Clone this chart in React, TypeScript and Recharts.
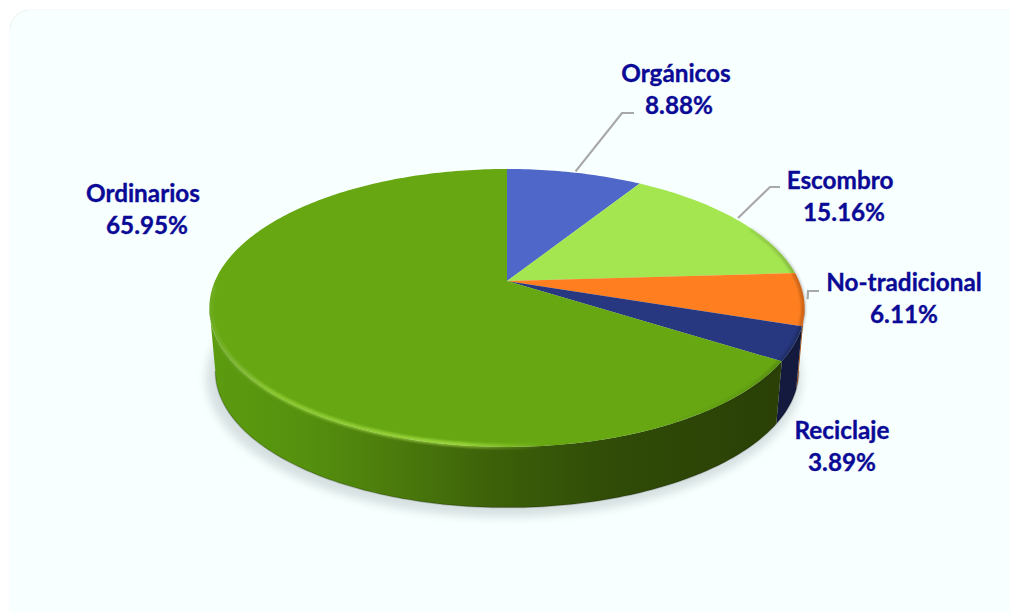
import React from 'react';
import { PieChart, Pie } from 'recharts';

const categories = ['Orgánicos', 'Escombro', 'No-tradicional', 'Reciclaje', 'Ordinarios'];
const shares = [8.88, 15.16, 6.11, 3.89, 65.95];

const topColors = ['#4f67c8', '#a4e650', '#ff7f20', '#273880', '#66a712'];
const wallColors = ['#2f3e78', '#62893a', '#a5500f', '#141a3e', 'url(#ordinariosWall)'];

const tableData = categories.map((name, i) => ({
  name,
  value: shares[i],
  fill: topColors[i],
  wall: wallColors[i],
}));

// where each label goes, and the elbow of its leader line (if it has one)
const labelSpots: Record<string, any> = {
  'Orgánicos': { x: 676, y: 82, pctX: 679, elbow: [622, 113, 634, 113] },
  'Escombro': { x: 840, y: 189, pctX: 844, elbow: [770, 187, 780, 187] },
  'No-tradicional': { x: 904, y: 291, pctX: 904, elbow: [808, 291, 819, 291] },
  'Reciclaje': { x: 842, y: 439, pctX: 842 },
  'Ordinarios': { x: 143, y: 202, pctX: 147 },
};

const RAD = Math.PI / 180;
const TILT = 0.458;
const PERSPECTIVE = 0.194;
const DEPTH = 64;
const BASE_SCALE = 0.98;

// the pie's own angles, pushed through a tilted camera
function project(cx: number, cy: number, r: number, angle: number, scale = 1, drop = 0) {
  const a = (90 - angle) * RAD;
  const X = Math.sin(a);
  const Y = Math.cos(a);
  const w = 1 + PERSPECTIVE * Y;
  return [cx + (r * scale * X) / w, cy + drop - (r * TILT * scale * Y) / w];
}

function arc(cx: number, cy: number, r: number, from: number, to: number, scale = 1, drop = 0) {
  const steps = Math.max(2, Math.ceil(Math.abs(from - to)));
  const pts: number[][] = [];
  for (let i = 0; i <= steps; i++) {
    pts.push(project(cx, cy, r, from + ((to - from) * i) / steps, scale, drop));
  }
  return pts;
}

const toPath = (pts: number[][]) => pts.map((p, i) => `${i ? 'L' : 'M'}${p[0].toFixed(2)},${p[1].toFixed(2)}`).join(' ');

function Slice3D(props: any) {
  const { cx, cy, outerRadius: r, startAngle, endAngle, fill } = props;
  const wall = props.wall ?? props.payload?.wall;

  const rim = arc(cx, cy, r, startAngle, endAngle);
  const top = `M${cx},${cy} ${toPath(rim).replace('M', 'L')} Z`;

  const wallFrom = Math.min(startAngle, -11);
  const wallTo = Math.max(endAngle, -169);
  const hasWall = wallFrom > wallTo;

  const rimFrom = Math.min(startAngle, 25);
  const rimTo = Math.max(endAngle, -178);

  return (
    <g>
      {startAngle === 90 && (
        <path
          d={toPath(arc(cx - 3, cy, r, 0, 360, 1, DEPTH + 6)) + ' Z'}
          fill="#d6e0e0"
          filter="url(#softShadow)"
        />
      )}
      {hasWall && (
        <>
          <path
            d={
              toPath(arc(cx, cy, r, wallFrom, wallTo)) +
              ' ' +
              toPath(arc(cx, cy, r, wallTo, wallFrom, BASE_SCALE, DEPTH)).replace('M', 'L') +
              ' Z'
            }
            fill={wall}
          />
          <path
            d={toPath(arc(cx, cy, r, wallFrom, wallTo, BASE_SCALE, DEPTH))}
            fill="none"
            stroke="rgba(0,0,0,0.2)"
            strokeWidth={1.5}
          />
        </>
      )}
      <path d={top} fill={fill} stroke="none" />
      {rimFrom > rimTo && (
        <path
          d={toPath(arc(cx, cy, r, rimFrom, rimTo, 0.996))}
          fill="none"
          stroke="url(#rimShade)"
          strokeWidth={5}
          filter="url(#softRim)"
        />
      )}
    </g>
  );
}

function SliceLabel(props: any) {
  const { cx, cy, outerRadius, midAngle, name, value } = props;
  const spot = labelSpots[name];
  if (!spot) return null;
  const textStyle = {
    fontFamily: 'Lato, sans-serif',
    fontWeight: 700,
    fontSize: 24.3,
    fill: '#0a0a96',
    stroke: '#0a0a96',
    strokeWidth: 0.35,
  };
  let leader = null;
  if (spot.elbow) {
    const [sx, sy] = project(cx, cy, outerRadius, midAngle, 1.012);
    const [ex, ey, fx, fy] = spot.elbow;
    leader = (
      <polyline
        points={`${sx},${sy} ${ex},${ey} ${fx},${fy}`}
        fill="none"
        stroke="#a8a8a8"
        strokeWidth={2.2}
      />
    );
  }
  return (
    <g>
      {leader}
      <text x={spot.x} y={spot.y} textAnchor="middle" style={textStyle}>{name}</text>
      <text x={spot.pctX} y={spot.y + 32} textAnchor="middle" style={textStyle}>{value.toFixed(2)}%</text>
    </g>
  );
}

export default function App() {
  return (
    <div style={{ position: 'absolute', left: 0, top: 0, width: 1010, height: 612, background: '#fff', overflow: 'hidden' }}>
      <div
        style={{
          position: 'absolute',
          left: 10,
          top: 10,
          width: 1010,
          height: 612,
          background: '#f8ffff',
          borderTopLeftRadius: 20,
          boxShadow: '0 0 1px #c9c9c9',
        }}
      />
      <div style={{ position: 'absolute', left: 0, top: 0 }}>
        <PieChart width={1010} height={612} margin={{ top: 0, right: 0, bottom: 0, left: 0 }}>
          <defs>
            <linearGradient id="ordinariosWall" gradientUnits="userSpaceOnUse" x1="210" y1="0" x2="780" y2="0">
              <stop offset="0" stopColor="#5c9c10" />
              <stop offset="0.17" stopColor="#55900e" />
              <stop offset="0.33" stopColor="#4b7a0c" />
              <stop offset="0.5" stopColor="#3c6009" />
              <stop offset="0.7" stopColor="#304c07" />
              <stop offset="1" stopColor="#2a4006" />
            </linearGradient>
            <linearGradient id="rimShade" gradientUnits="userSpaceOnUse" x1="210" y1="0" x2="805" y2="0">
              <stop offset="0" stopColor="#ffffff" stopOpacity="0.05" />
              <stop offset="0.1" stopColor="#c8ff60" stopOpacity="0.35" />
              <stop offset="0.42" stopColor="#c8ff60" stopOpacity="0.5" />
              <stop offset="0.56" stopColor="#c8ff60" stopOpacity="0" />
              <stop offset="0.75" stopColor="#000000" stopOpacity="0" />
              <stop offset="0.9" stopColor="#000000" stopOpacity="0.06" />
              <stop offset="1" stopColor="#000000" stopOpacity="0.2" />
            </linearGradient>
            <filter id="softShadow" filterUnits="userSpaceOnUse" x="0" y="0" width="1010" height="612">
              <feGaussianBlur stdDeviation="5" />
            </filter>
            <filter id="softRim" filterUnits="userSpaceOnUse" x="0" y="0" width="1010" height="612">
              <feGaussianBlur stdDeviation="1.2" />
            </filter>
          </defs>
          <Pie
            data={tableData}
            dataKey="value"
            nameKey="name"
            cx={507}
            cy={281}
            innerRadius={0}
            outerRadius={292}
            startAngle={90}
            endAngle={-270}
            stroke="none"
            shape={Slice3D}
            label={SliceLabel}
            labelLine={false}
            isAnimationActive={false}
          />
        </PieChart>
      </div>
    </div>
  );
}
